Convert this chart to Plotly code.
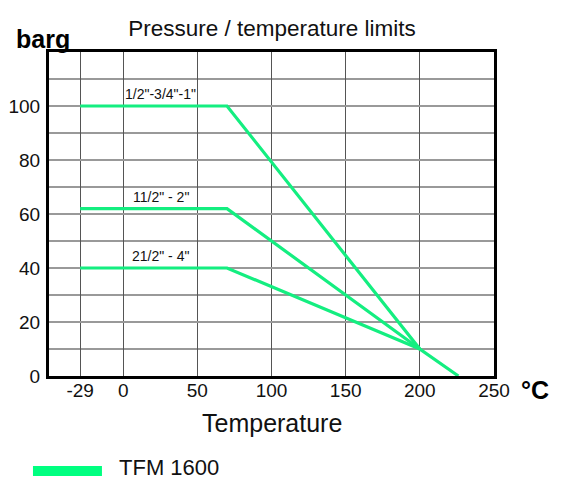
import plotly.graph_objects as go

# ---- data ----
series_names = ['1/2"-3/4"-1"', '11/2" - 2"', '21/2" - 4"']
temps_1 = [-29, 70, 200, 226]
press_1 = [100, 100, 10, 0]
temps_2 = [-29, 70, 200]
press_2 = [62, 62, 10]
temps_3 = [-29, 70, 200]
press_3 = [40, 40, 10]
x_tick_vals = [-29, 0, 50, 100, 150, 200, 250]
x_tick_text = ["-29", "0", "50", "100", "150", "200", "250"]
y_tick_vals = [0, 20, 40, 60, 80, 100]
legend_name = "TFM 1600"

GREEN = "#14EE80"
FONT = "Liberation Sans, Arial, sans-serif"

# page body has an 8px default margin -> figure is 8px smaller than the window
W, H = 556, 473

fig = go.Figure()
for name, xs, ys in [(series_names[0], temps_1, press_1),
                     (series_names[1], temps_2, press_2),
                     (series_names[2], temps_3, press_3)]:
    fig.add_trace(go.Scatter(x=xs, y=ys, mode="lines", name=name,
                             line=dict(color=GREEN, width=3.2),
                             showlegend=False))
    # series label centred above the flat part
    fig.add_annotation(x=(xs[0] + xs[1]) / 2 + 5, y=ys[0], text=name,
                       showarrow=False, yanchor="bottom", yshift=2,
                       font=dict(family=FONT, size=14, color="#111"))

fig.update_layout(
    width=W, height=H, autosize=False,
    margin=dict(l=41, r=70, t=44, b=105),
    paper_bgcolor="white", plot_bgcolor="white",
    font=dict(family=FONT, color="#111"),
    title=dict(text="Pressure / temperature limits", x=(272 - 8) / W, xanchor="center",
               y=1 - (28 - 8) / H, yanchor="middle",
               font=dict(family=FONT, size=22.5, color="#111")),
    showlegend=False,
)
fig.update_xaxes(range=[-50, 250], tickmode="array", tickvals=x_tick_vals,
                 ticktext=x_tick_text, showgrid=True, gridcolor="#555",
                 gridwidth=1, zeroline=False, showline=True, linecolor="black",
                 linewidth=3, mirror=True, ticks="", automargin=False,
                 ticklabelstandoff=-5,
                 tickfont=dict(family=FONT, size=19))
fig.update_yaxes(range=[0, 120], tickmode="array", tickvals=y_tick_vals,
                 showgrid=True, gridcolor="#999", gridwidth=1.5, zeroline=False,
                 minor=dict(dtick=10, showgrid=True, gridcolor="#999", gridwidth=1.5),
                 showline=True, linecolor="black", linewidth=3, mirror=True,
                 ticks="outside", ticklen=2, tickcolor="white", automargin=False,
                 tickfont=dict(family=FONT, size=19))

# axis unit labels and axis title
fig.add_annotation(xref="paper", yref="paper", x=-0.078, y=1.040, text="<b>barg</b>",
                   showarrow=False, xanchor="left", yanchor="middle",
                   font=dict(family=FONT, size=25, color="black"))
fig.add_annotation(xref="paper", yref="paper", x=1.092, y=-0.043, text="<b>°C</b>",
                   showarrow=False, xanchor="center", yanchor="middle",
                   font=dict(family=FONT, size=25, color="black"))
fig.add_annotation(xref="paper", yref="paper", x=0.501, y=-0.145, text="Temperature",
                   showarrow=False, xanchor="center", yanchor="middle",
                   font=dict(family=FONT, size=25, color="#111"))

# legend drawn manually (long thick swatch)
fig.add_shape(type="line", xref="paper", yref="paper", x0=-0.036, x1=0.119,
              y0=-0.293, y1=-0.293, line=dict(color="#00FF80", width=10))
fig.add_annotation(xref="paper", yref="paper", x=0.152, y=-0.281, text=legend_name,
                   showarrow=False, xanchor="left", yanchor="middle",
                   font=dict(family=FONT, size=22, color="#111"))

fig.write_html("out.html")
